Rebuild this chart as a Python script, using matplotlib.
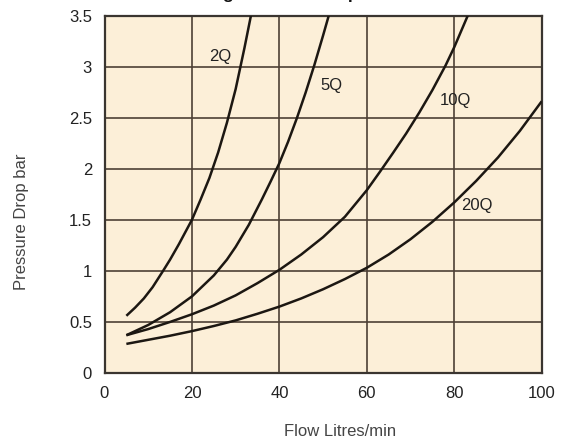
import matplotlib
matplotlib.use("Agg")
import matplotlib.pyplot as plt

plt.rcParams['font.family'] = ['Liberation Sans', 'DejaVu Sans']

# Data (flow L/min, pressure drop bar)
q2_x = [5, 7, 9, 11, 13.4, 15, 17, 20, 22, 24, 26, 28, 30, 32, 33.5]
q2_y = [0.56, 0.64, 0.73, 0.84, 1.0, 1.11, 1.26, 1.5, 1.70, 1.91, 2.16, 2.45, 2.78, 3.18, 3.5]

q5_x = [5, 10, 15, 20, 25, 28, 30, 33, 36, 38, 40, 42, 44, 46, 48, 50, 51.3]
q5_y = [0.37, 0.47, 0.595, 0.75, 0.955, 1.11, 1.235, 1.45, 1.70, 1.875, 2.055, 2.265, 2.495,
        2.745, 3.015, 3.305, 3.5]

q10_x = [5, 10, 15, 20, 25, 30, 35, 40, 45, 50, 55, 60, 63, 66, 69, 72, 75, 78, 80, 83.1]
q10_y = [0.37, 0.43, 0.50, 0.575, 0.66, 0.76, 0.88, 1.01, 1.16, 1.33, 1.53, 1.79, 1.97, 2.155,
         2.345, 2.55, 2.77, 3.01, 3.19, 3.5]

q20_x = [5, 10, 15, 20, 25, 30, 35, 40, 45, 50, 55, 60, 65, 70, 75, 80, 85, 90, 95, 100]
q20_y = [0.285, 0.325, 0.365, 0.41, 0.46, 0.515, 0.58, 0.65, 0.73, 0.82, 0.92, 1.03, 1.16, 1.31,
         1.48, 1.67, 1.88, 2.11, 2.37, 2.66]

series = [("2Q", q2_x, q2_y), ("5Q", q5_x, q5_y), ("10Q", q10_x, q10_y), ("20Q", q20_x, q20_y)]
label_pos = {"2Q": (26.4, 3.10), "5Q": (51.8, 2.81), "10Q": (80.2, 2.67), "20Q": (85.2, 1.64)}

x_ticks = [0, 20, 40, 60, 80, 100]
y_ticks = [0, 0.5, 1, 1.5, 2, 2.5, 3, 3.5]
y_ticklabels = ["0", "0.5", "1", "1.5", "2", "2.5", "3", "3.5"]

W, H = 565, 443
fig = plt.figure(figsize=(W / 100, H / 100), dpi=100)
ax = fig.add_axes([104.5 / W, (H - 373) / H, (541.7 - 104.5) / W, (373 - 15.5) / H])
ax.set_facecolor('#fcefd8')

for name, xs, ys in series:
    ax.plot(xs, ys, color='#1c1712', lw=1.8, solid_capstyle='butt',
            solid_joinstyle='round', zorder=3)
    lx, ly = label_pos[name]
    ax.text(lx, ly, name, ha='center', va='center', fontsize=12, color='#222222', zorder=4)

ax.set_xlim(0, 100)
ax.set_ylim(0, 3.5)
ax.set_xticks(x_ticks)
ax.set_yticks(y_ticks)
ax.set_yticklabels(y_ticklabels)
ax.grid(True, color='#4d4035', lw=1.2, zorder=1)
ax.set_axisbelow(True)
ax.tick_params(length=0, labelsize=12, colors='#222222')
ax.tick_params(axis='x', pad=9.5)
ax.tick_params(axis='y', pad=9)
for sp in ax.spines.values():
    sp.set_color('#3a3530')
    sp.set_linewidth(1.6)

fig.text(340 / W, 1 - 431 / H, "Flow Litres/min", ha='center', va='center', fontsize=12, color='#444444')
fig.text(22 / W, 1 - 222 / H, "Pressure Drop bar", ha='center', va='center', rotation=90,
         fontsize=12, color='#444444')
# Title: cut off at the top edge in the reference, only descenders visible
fig.text(164 / W, 1 + 0.6 / H, "Housing Pressure Drop", ha='left', va='baseline',
         fontsize=12.5, fontweight='bold', color='#111111')

fig.savefig("out.png", dpi=100)
